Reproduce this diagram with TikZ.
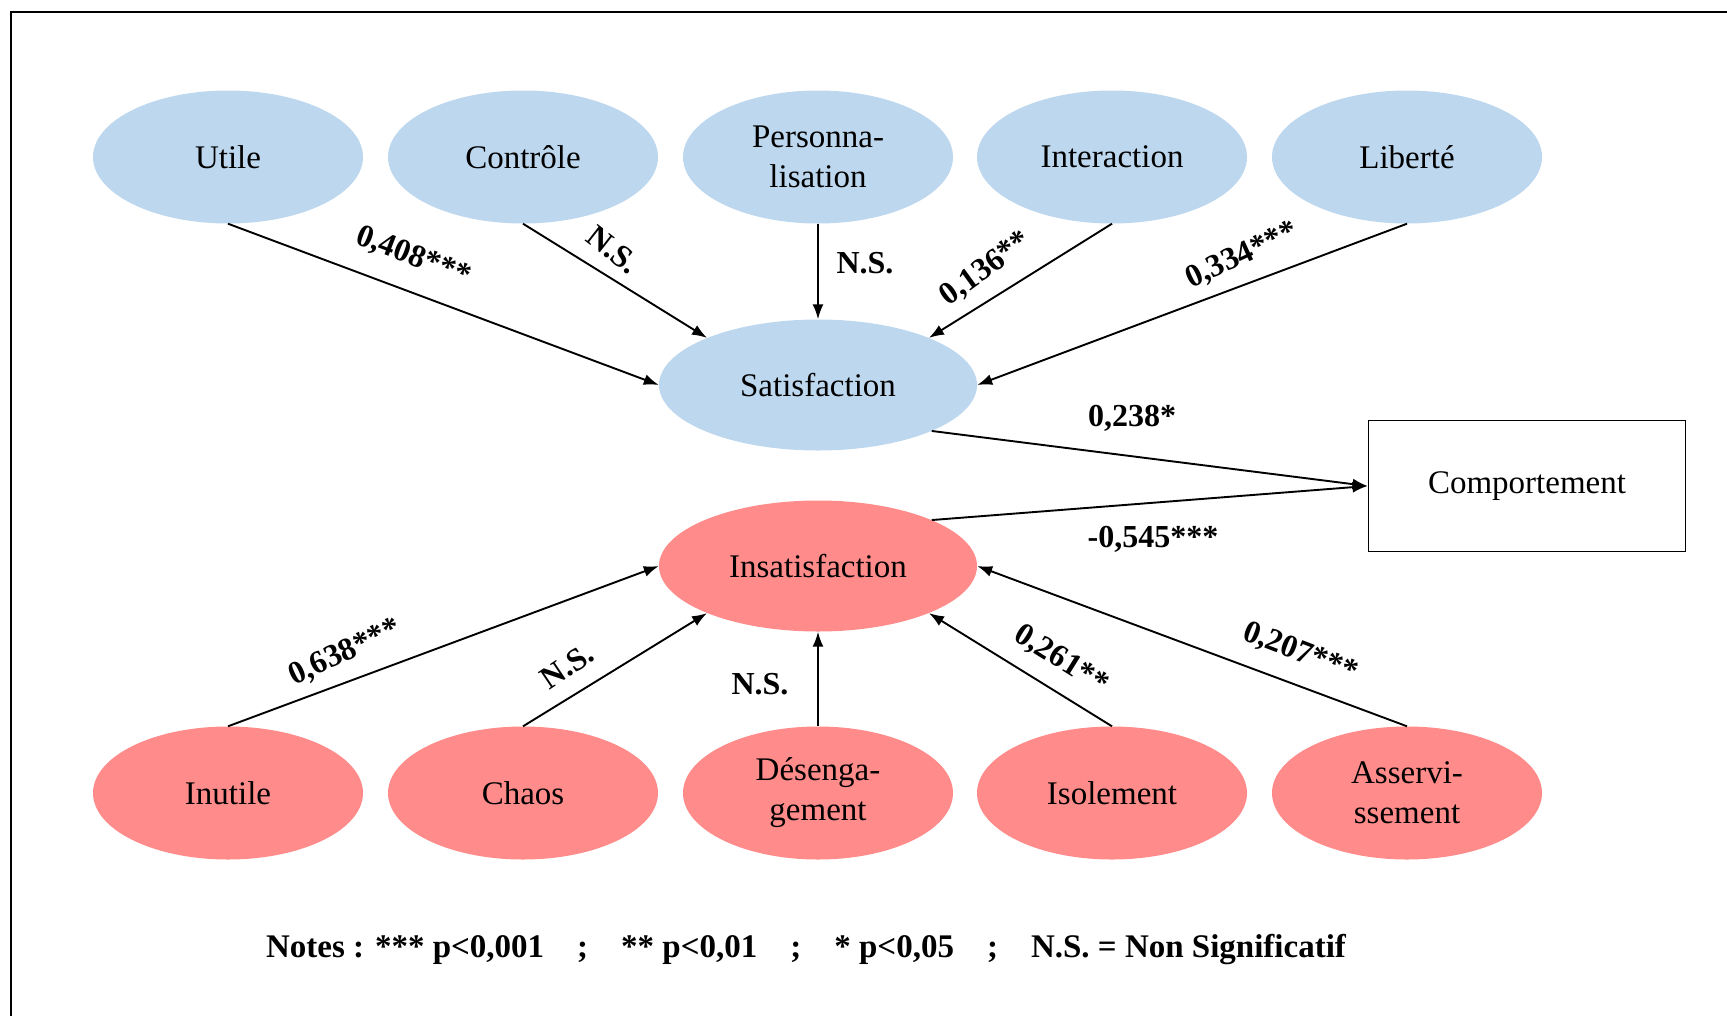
\documentclass[tikz,border=0pt]{standalone}
\usepackage{fontspec}
\setmainfont{Liberation Serif}
\usetikzlibrary{shapes.geometric,arrows.meta}
\definecolor{satblue}{HTML}{BDD7EE}
\definecolor{insred}{HTML}{FF8B8B}
\begin{document}
\begin{tikzpicture}[x=1pt,y=-1pt,
  ell/.style={ellipse, minimum width=270pt, minimum height=133pt, inner sep=0pt,
    font=\fontsize{33}{40}\selectfont, align=center},
  posv/.style={ell, fill=satblue},
  negv/.style={ell, fill=insred},
  midv/.style={minimum width=318pt, minimum height=131pt},
  outbox/.style={draw, line width=1.9pt, minimum width=317pt, minimum height=131pt,
    inner sep=0pt, font=\fontsize{33}{39}\selectfont},
  arr/.style={-{Latex[length=15pt,width=11pt]}, line width=1.9pt},
  lab/.style={font=\fontsize{32}{36}\selectfont\bfseries, inner sep=0pt}
]
\useasboundingbox (0,0) rectangle (1727,1015);
\begin{scope}
  \clip (0,0) rectangle (1727,1015);
  \draw[line width=2pt] (11,12) rectangle (1760,1050);
\end{scope}

% top row
\node[posv] (utile) at (228,157) {Utile};
\node[posv] (ctrl)  at (523,157) {Contrôle};
\node[posv] (pers)  at (818,157) {Personna-\\lisation};
\node[posv] (inter) at (1112,157) {Interaction};
\node[posv] (lib)   at (1407,157) {Liberté};

% middle
\node[posv, midv] (sat) at (818,385) {Satisfaction};
\node[negv, midv] (ins) at (818,566) {Insatisfaction};
\node[outbox] (comp) at (1527,486) {Comportement};

% bottom row
\node[negv] (inut)  at (228,793) {Inutile};
\node[negv] (chaos) at (523,793) {Chaos};
\node[negv] (des)   at (818,793) {Désenga-\\gement};
\node[negv] (iso)   at (1112,793) {Isolement};
\node[negv] (ass)   at (1407,793) {Asservi-\\ssement};

% arrows
\draw[arr] (utile.south) -- (sat.west);
\draw[arr] (ctrl.south) -- (sat.157);
\draw[arr] (pers.south) -- (sat.north);
\draw[arr] (inter.south) -- (sat.23);
\draw[arr] (lib.south) -- (sat.east);
\draw[arr] (sat.-22) -- (comp.west);
\draw[arr] (ins.22) -- (comp.west);
\draw[arr] (inut.north) -- (ins.west);
\draw[arr] (chaos.north) -- (ins.203);
\draw[arr] (des.north) -- (ins.south);
\draw[arr] (iso.north) -- (ins.-23);
\draw[arr] (ass.north) -- (ins.east);

% labels
\node[lab, rotate=-21] (l1) at (413,257) {0,408***};
\node[lab, rotate=-38] (l2) at (613,250) {N.S.};
\node[lab] (l3) at (865,263) {N.S.};
\node[lab, rotate=36] (l4) at (986,269) {0,136**};
\node[lab, rotate=25] (l5) at (1242,256) {0,334***};
\node[lab] (l6) at (1132,418) {0,238*};
\node[lab] (l7) at (1153,539) {-0,545***};
\node[lab, rotate=25] (l8) at (345,653) {0,638***};
\node[lab, rotate=34] (l9) at (567,666) {N.S.};
\node[lab] (l10) at (760,684) {N.S.};
\node[lab, rotate=-32] (l11) at (1061,660) {0,261**};
\node[lab, rotate=-21] (l12) at (1300,653) {0,207***};

% notes
\node[lab, font=\fontsize{33}{38}\selectfont\bfseries] (notes) at (806,950)
  {Notes : *** p<0,001\hspace{33pt};\hspace{33pt}** p<0,01\hspace{33pt};\hspace{33pt}* p<0,05\hspace{33pt};\hspace{33pt}N.S. = Non Significatif};
\end{tikzpicture}
\end{document}
